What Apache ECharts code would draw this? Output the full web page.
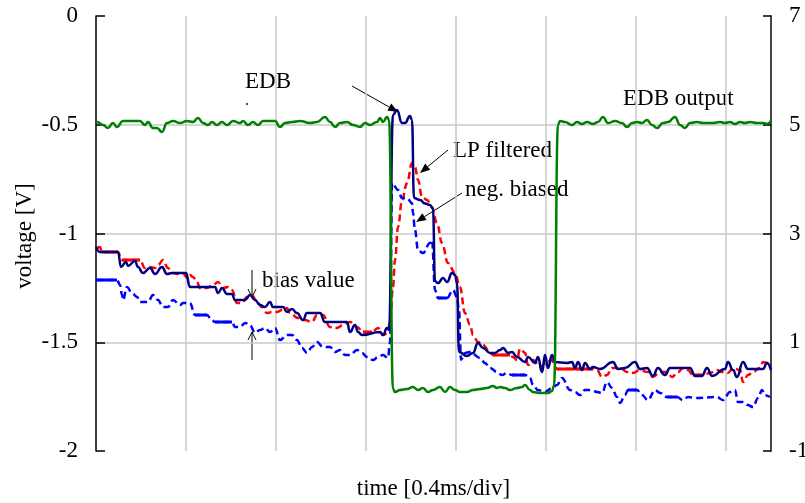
<!DOCTYPE html>
<html>
<head>
<meta charset="utf-8">
<script src="https://cdn.jsdelivr.net/npm/echarts@6/dist/echarts.min.js"></script>
<style>html,body{margin:0;padding:0;background:#fff}#c{width:805px;height:503px}</style>
</head>
<body>
<div id="c"></div>
<script>
// time axis in divisions (0.4 ms/div), voltage in V
const xTicks = [0, 1, 2, 3, 4, 5, 6, 7];
const leftTicks = [-2, -1.5, -1, -0.5, 0];
const rightTicks = [-1, 1, 3, 5, 7];

// EDB input (navy, solid)
const edbInput = [
[0,-1.062],[0.044,-1.085],[0.244,-1.085],[0.278,-1.154],[0.333,-1.131],[0.356,-1.149],[0.433,-1.126],[0.467,-1.154],[0.522,-1.182],[0.6,-1.159],[0.656,-1.186],[0.733,-1.154],[0.789,-1.186],[0.844,-1.182],[1.0,-1.182],[1.044,-1.246],[1.322,-1.246],[1.356,-1.274],[1.4,-1.251],[1.456,-1.278],[1.511,-1.278],[1.544,-1.306],[1.656,-1.306],[1.711,-1.283],[1.767,-1.306],[1.822,-1.329],[1.878,-1.338],[1.933,-1.315],[1.967,-1.338],[2.078,-1.338],[2.122,-1.361],[2.178,-1.347],[2.233,-1.366],[2.3,-1.398],[2.344,-1.366],[2.489,-1.366],[2.544,-1.407],[2.789,-1.407],[2.822,-1.453],[2.878,-1.421],[2.911,-1.453],[2.956,-1.467],[3.156,-1.453],[3.189,-1.467],[3.233,-1.434],[3.256,-1.444],[3.3,-0.455],[3.344,-0.432],[3.4,-0.492],[3.433,-0.492],[3.489,-0.46],[3.511,-0.478],[3.533,-0.837],[3.6,-0.846],[3.656,-0.862],[3.711,-0.869],[3.744,-0.885],[3.767,-1.22],[3.8,-1.228],[3.856,-1.205],[3.9,-1.223],[3.956,-1.182],[3.989,-1.191],[4.011,-1.228],[4.033,-1.545],[4.122,-1.563],[4.189,-1.549],[4.244,-1.503],[4.3,-1.526],[4.378,-1.549],[4.433,-1.549],[4.489,-1.536],[4.522,-1.526],[4.578,-1.549],[4.622,-1.545],[4.678,-1.568],[4.767,-1.591],[4.8,-1.568],[4.878,-1.595],[4.911,-1.568],[4.956,-1.637],[4.989,-1.559],[5.022,-1.618],[5.067,-1.559],[5.1,-1.591],[5.233,-1.595],[5.289,-1.591],[5.322,-1.618],[5.356,-1.591],[5.4,-1.628],[5.433,-1.595],[5.489,-1.623],[5.522,-1.614],[5.6,-1.623],[5.744,-1.591],[5.8,-1.623],[5.878,-1.618],[5.989,-1.591],[6.044,-1.623],[6.122,-1.618],[6.189,-1.655],[6.244,-1.618],[6.322,-1.651],[6.378,-1.618],[6.6,-1.618],[6.656,-1.655],[6.733,-1.655],[6.789,-1.618],[6.844,-1.655],[6.989,-1.623],[7.022,-1.591],[7.078,-1.628],[7.122,-1.66],[7.189,-1.591],[7.244,-1.623],[7.411,-1.623],[7.456,-1.595],[7.5,-1.628]
];

// LP filtered (red, dashed)
const lpFiltered = [
[0.011,-1.067],[0.044,-1.062],[0.067,-1.085],[0.244,-1.085],[0.289,-1.122],[0.489,-1.122],[0.544,-1.159],[0.6,-1.154],[0.656,-1.159],[0.689,-1.145],[0.744,-1.122],[0.8,-1.159],[0.856,-1.182],[0.911,-1.186],[0.967,-1.182],[1.011,-1.205],[1.044,-1.191],[1.078,-1.2],[1.122,-1.223],[1.156,-1.251],[1.233,-1.251],[1.3,-1.237],[1.356,-1.223],[1.411,-1.251],[1.467,-1.246],[1.511,-1.26],[1.567,-1.32],[1.622,-1.32],[1.678,-1.292],[1.733,-1.283],[1.789,-1.315],[1.844,-1.338],[1.9,-1.366],[1.956,-1.361],[2.011,-1.361],[2.067,-1.352],[2.122,-1.343],[2.156,-1.366],[2.244,-1.389],[2.322,-1.398],[2.4,-1.407],[2.456,-1.375],[2.522,-1.375],[2.6,-1.43],[2.678,-1.434],[2.744,-1.421],[2.822,-1.407],[2.9,-1.43],[2.967,-1.453],[3.067,-1.453],[3.133,-1.434],[3.189,-1.467],[3.244,-1.457],[3.267,-1.398],[3.3,-1.246],[3.322,-1.122],[3.356,-0.97],[3.4,-0.846],[3.456,-0.768],[3.511,-0.676],[3.544,-0.694],[3.578,-0.754],[3.622,-0.832],[3.678,-0.846],[3.733,-0.878],[3.789,-0.952],[3.844,-1.044],[3.911,-1.136],[3.989,-1.182],[4.044,-1.246],[4.1,-1.366],[4.156,-1.42],[4.189,-1.467],[4.244,-1.499],[4.3,-1.513],[4.378,-1.545],[4.411,-1.559],[4.6,-1.559],[4.633,-1.568],[4.678,-1.582],[4.711,-1.53],[4.767,-1.549],[4.8,-1.605],[4.856,-1.582],[4.933,-1.614],[5.011,-1.591],[5.067,-1.582],[5.1,-1.614],[5.122,-1.623],[5.522,-1.623],[5.567,-1.628],[5.622,-1.66],[5.678,-1.651],[5.733,-1.618],[5.822,-1.618],[5.9,-1.637],[5.967,-1.641],[6.044,-1.628],[6.133,-1.637],[6.189,-1.66],[6.267,-1.637],[6.344,-1.637],[6.4,-1.66],[6.467,-1.637],[6.522,-1.618],[6.578,-1.628],[6.633,-1.651],[6.744,-1.651],[6.822,-1.641],[6.9,-1.628],[6.956,-1.637],[7.022,-1.641],[7.078,-1.618],[7.156,-1.628],[7.189,-1.683],[7.244,-1.651],[7.3,-1.637],[7.378,-1.618],[7.411,-1.591],[7.456,-1.595],[7.489,-1.614]
];

// negatively biased (blue, dashed)
const negBiased = [
[0,-1.214],[0.233,-1.214],[0.267,-1.237],[0.289,-1.283],[0.3,-1.306],[0.344,-1.246],[0.4,-1.274],[0.456,-1.292],[0.489,-1.315],[0.578,-1.315],[0.633,-1.283],[0.689,-1.306],[0.744,-1.338],[0.8,-1.338],[0.856,-1.306],[0.933,-1.329],[0.967,-1.32],[1.044,-1.32],[1.1,-1.375],[1.233,-1.375],[1.289,-1.398],[1.322,-1.407],[1.511,-1.407],[1.544,-1.43],[1.6,-1.43],[1.656,-1.411],[1.711,-1.421],[1.767,-1.457],[1.822,-1.444],[1.878,-1.434],[1.933,-1.453],[1.989,-1.434],[2.044,-1.49],[2.122,-1.467],[2.178,-1.467],[2.233,-1.49],[2.289,-1.526],[2.344,-1.549],[2.4,-1.522],[2.456,-1.499],[2.522,-1.522],[2.6,-1.522],[2.656,-1.545],[2.711,-1.536],[2.767,-1.559],[2.822,-1.559],[2.9,-1.536],[2.956,-1.549],[3.011,-1.568],[3.078,-1.582],[3.133,-1.568],[3.189,-1.559],[3.244,-1.572],[3.267,-1.5],[3.289,-0.768],[3.356,-0.8],[3.4,-0.837],[3.456,-0.837],[3.511,-0.86],[3.522,-0.906],[3.544,-0.984],[3.578,-1.076],[3.633,-1.09],[3.711,-1.044],[3.733,-1.03],[3.767,-1.26],[3.8,-1.297],[3.9,-1.297],[3.967,-1.26],[4.011,-1.292],[4.033,-1.35],[4.056,-1.58],[4.1,-1.549],[4.156,-1.545],[4.267,-1.572],[4.322,-1.595],[4.378,-1.618],[4.456,-1.637],[4.511,-1.651],[4.567,-1.641],[4.622,-1.651],[4.767,-1.651],[4.822,-1.664],[4.856,-1.697],[4.911,-1.72],[4.989,-1.729],[5.067,-1.71],[5.122,-1.697],[5.178,-1.664],[5.267,-1.72],[5.322,-1.729],[5.378,-1.743],[5.433,-1.72],[5.511,-1.72],[5.567,-1.729],[5.622,-1.733],[5.678,-1.683],[5.733,-1.71],[5.789,-1.752],[5.822,-1.779],[5.878,-1.743],[5.911,-1.72],[6.011,-1.72],[6.067,-1.743],[6.133,-1.766],[6.211,-1.72],[6.267,-1.733],[6.344,-1.752],[6.456,-1.752],[6.522,-1.766],[6.578,-1.752],[6.656,-1.756],[6.9,-1.752],[6.967,-1.766],[7.044,-1.729],[7.1,-1.72],[7.133,-1.775],[7.189,-1.775],[7.244,-1.789],[7.3,-1.798],[7.356,-1.756],[7.4,-1.72],[7.433,-1.743],[7.489,-1.752]
];

// EDB output (green, right axis)
const edbOutput = [
[0,5.032],[0.011,5.051],[0.078,4.995],[0.133,4.94],[0.189,5.032],[0.233,4.959],[0.3,5.069],[0.489,5.069],[0.544,4.995],[0.578,5.051],[0.633,4.94],[0.678,4.94],[0.733,4.867],[0.789,5.032],[0.856,5.069],[0.933,5.032],[1.011,5.069],[1.078,5.051],[1.133,5.124],[1.189,5.032],[1.244,4.995],[1.289,5.051],[1.344,4.995],[1.4,5.051],[1.456,4.995],[1.522,5.069],[1.6,5.032],[1.633,5.069],[1.689,4.995],[1.744,5.051],[1.8,4.995],[1.856,5.069],[1.989,5.069],[2.044,4.959],[2.1,5.032],[2.178,5.051],[2.267,5.069],[2.378,5.032],[2.456,5.051],[2.544,5.143],[2.6,5.051],[2.656,4.959],[2.711,5.032],[2.789,5.051],[2.856,4.995],[2.933,4.959],[2.989,5.032],[3.044,4.995],[3.122,5.051],[3.156,5.124],[3.189,5.051],[3.233,5.143],[3.256,5.087],[3.3,0.14],[3.322,0.085],[3.378,0.122],[3.456,0.14],[3.522,0.177],[3.578,0.122],[3.633,0.159],[3.689,0.085],[3.744,0.122],[3.822,0.177],[3.878,0.085],[3.933,0.177],[3.989,0.122],[4.044,0.085],[4.122,0.085],[4.189,0.122],[4.267,0.14],[4.344,0.159],[4.411,0.195],[4.456,0.159],[4.489,0.177],[4.544,0.159],[4.6,0.122],[4.678,0.159],[4.733,0.177],[4.767,0.214],[4.822,0.122],[4.856,0.085],[4.933,0.067],[5.022,0.067],[5.067,0.103],[5.089,0.2],[5.133,5.0],[5.156,5.069],[5.211,5.051],[5.289,4.995],[5.344,5.051],[5.4,5.014],[5.456,5.051],[5.522,5.014],[5.578,5.051],[5.633,5.143],[5.689,5.032],[5.767,5.069],[5.844,5.032],[5.9,4.959],[5.956,5.032],[6.011,5.051],[6.067,5.032],[6.122,5.087],[6.178,4.995],[6.233,4.94],[6.3,5.032],[6.356,5.051],[6.433,5.143],[6.489,4.995],[6.544,4.94],[6.6,5.032],[6.678,5.051],[6.744,5.032],[6.856,5.032],[6.933,5.051],[6.989,5.032],[7.044,5.051],[7.1,5.014],[7.156,5.051],[7.211,5.032],[7.267,5.051],[7.344,5.032],[7.411,5.032],[7.456,5.014],[7.5,5.069]
];

const FONT = '"Liberation Serif", "Times New Roman", serif';
const FS = 23;

// long constant-level runs of a dashed trace render solid in the original plot
function flatRuns(data, minLen) {
  const out = [];
  for (let i = 0; i < data.length - 1; i++) {
    const a = data[i], b = data[i + 1];
    if (a[1] === b[1] && b[0] - a[0] >= minLen) {
      out.push([a[0], a[1]], [b[0], b[1]], null);
    }
  }
  return out;
}

function arrowFilled(x1, y1, x2, y2) {
  const dx = x2 - x1, dy = y2 - y1, L = Math.hypot(dx, dy), ux = dx / L, uy = dy / L;
  const hl = 10, hw = 4;
  const bx = x2 - ux * hl, by = y2 - uy * hl, px = -uy, py = ux;
  return [
    { type: 'line', shape: { x1: x1, y1: y1, x2: bx, y2: by }, style: { stroke: '#000', lineWidth: 1 } },
    { type: 'polygon', shape: { points: [[x2, y2], [bx + px * hw, by + py * hw], [bx - px * hw, by - py * hw]] }, style: { fill: '#000' } }
  ];
}
function arrowOpen(x1, y1, x2, y2) {
  const dx = x2 - x1, dy = y2 - y1, L = Math.hypot(dx, dy), ux = dx / L, uy = dy / L;
  const hl = 8, hw = 4;
  const bx = x2 - ux * hl, by = y2 - uy * hl, px = -uy, py = ux;
  return [
    { type: 'line', shape: { x1: x1, y1: y1, x2: x2, y2: y2 }, style: { stroke: '#000', lineWidth: 1 } },
    { type: 'polyline', shape: { points: [[bx + px * hw, by + py * hw], [x2, y2], [bx - px * hw, by - py * hw]] }, style: { stroke: '#000', lineWidth: 1, fill: null } }
  ];
}
function label(text, x, y) {
  return { type: 'text', x: x, y: y, style: { text: text, fontFamily: FONT, fontSize: FS, fill: '#000', textAlign: 'left', textVerticalAlign: 'middle' } };
}

const chart = echarts.init(document.getElementById('c'), null, { renderer: 'canvas' });
const option = {
  animation: false,
  backgroundColor: '#fff',
  textStyle: { fontFamily: FONT },
  grid: { left: 96, right: 34, top: 16, bottom: 52, containLabel: false, outerBoundsMode: 'none' },
  xAxis: {
    type: 'value', min: xTicks[0], max: 7.5, interval: 1,
    axisLine: { show: false }, axisTick: { show: false }, axisLabel: { show: false },
    splitLine: { show: true, showMinLine: false, showMaxLine: false, lineStyle: { color: '#c8c8c8', width: 1.5 } },
    name: 'time [0.4ms/div]', nameLocation: 'middle', nameGap: 26,
    nameTextStyle: { fontFamily: FONT, fontSize: FS, color: '#000', verticalAlign: 'top' }
  },
  yAxis: [
    {
      type: 'value', min: leftTicks[0], max: leftTicks[leftTicks.length - 1], interval: 0.5, position: 'left',
      axisLine: { show: true, lineStyle: { color: '#000', width: 1.5 } },
      axisTick: { show: true, inside: true, length: 9, lineStyle: { color: '#000', width: 1.5 } },
      axisLabel: { fontFamily: FONT, fontSize: FS, color: '#000', margin: 18 },
      splitLine: { show: true, showMinLine: false, showMaxLine: false, lineStyle: { color: '#c8c8c8', width: 1.5 } }
    },
    {
      type: 'value', min: rightTicks[0], max: rightTicks[rightTicks.length - 1], interval: 2, position: 'right',
      axisLine: { show: true, lineStyle: { color: '#444', width: 2 } },
      axisTick: { show: true, inside: true, length: 8, lineStyle: { color: '#000', width: 1.5 } },
      axisLabel: { fontFamily: FONT, fontSize: FS, color: '#000', margin: 18 },
      splitLine: { show: false }
    }
  ],
  series: [
    { name: 'LP filtered', type: 'line', yAxisIndex: 0, data: lpFiltered, showSymbol: false, smooth: 0.4, smoothMonotone: 'x',
      lineStyle: { color: '#ff0000', width: 2.5, type: [7, 4] }, z: 2 },
    { name: 'LP flat', type: 'line', yAxisIndex: 0, data: flatRuns(lpFiltered, 0.1), showSymbol: false, connectNulls: false,
      lineStyle: { color: '#ff0000', width: 3 }, z: 2 },
    { name: 'neg. biased', type: 'line', yAxisIndex: 0, data: negBiased, showSymbol: false, smooth: 0.4, smoothMonotone: 'x',
      lineStyle: { color: '#0000ff', width: 2.5, type: [7, 4] }, z: 3 },
    { name: 'neg flat', type: 'line', yAxisIndex: 0, data: flatRuns(negBiased, 0.1), showSymbol: false, connectNulls: false,
      lineStyle: { color: '#0000ff', width: 3 }, z: 3 },
    { name: 'EDB', type: 'line', yAxisIndex: 0, data: edbInput, showSymbol: false, smooth: 0.5, smoothMonotone: 'x',
      lineStyle: { color: '#000080', width: 2.5 }, z: 4 },
    { name: 'EDB output', type: 'line', yAxisIndex: 1, data: edbOutput, showSymbol: false, smooth: 0.5, smoothMonotone: 'x',
      lineStyle: { color: '#008000', width: 2.5 }, z: 5 }
  ],
  graphic: [].concat(
    [{ type: 'text', x: 25, y: 236, rotation: Math.PI / 2,
       style: { text: 'voltage [V]', fontFamily: FONT, fontSize: FS, fill: '#000', textAlign: 'center', textVerticalAlign: 'middle' } }],
    [label('EDB', 245, 82), label('EDB output', 623, 99), label('LP filtered', 453, 151), label('neg. biased', 465, 190), label('bias value', 262, 281)],
    [{ type: 'rect', shape: { x: 246, y: 103, width: 2, height: 2 }, style: { fill: '#555' } }],
    arrowFilled(352, 86, 398, 112),
    arrowFilled(448, 150, 420, 173),
    arrowFilled(462, 193, 416, 222),
    arrowOpen(252, 270, 252, 297),
    arrowOpen(252, 360, 252, 332)
  )
};
chart.setOption(option);
</script>
</body>
</html>
